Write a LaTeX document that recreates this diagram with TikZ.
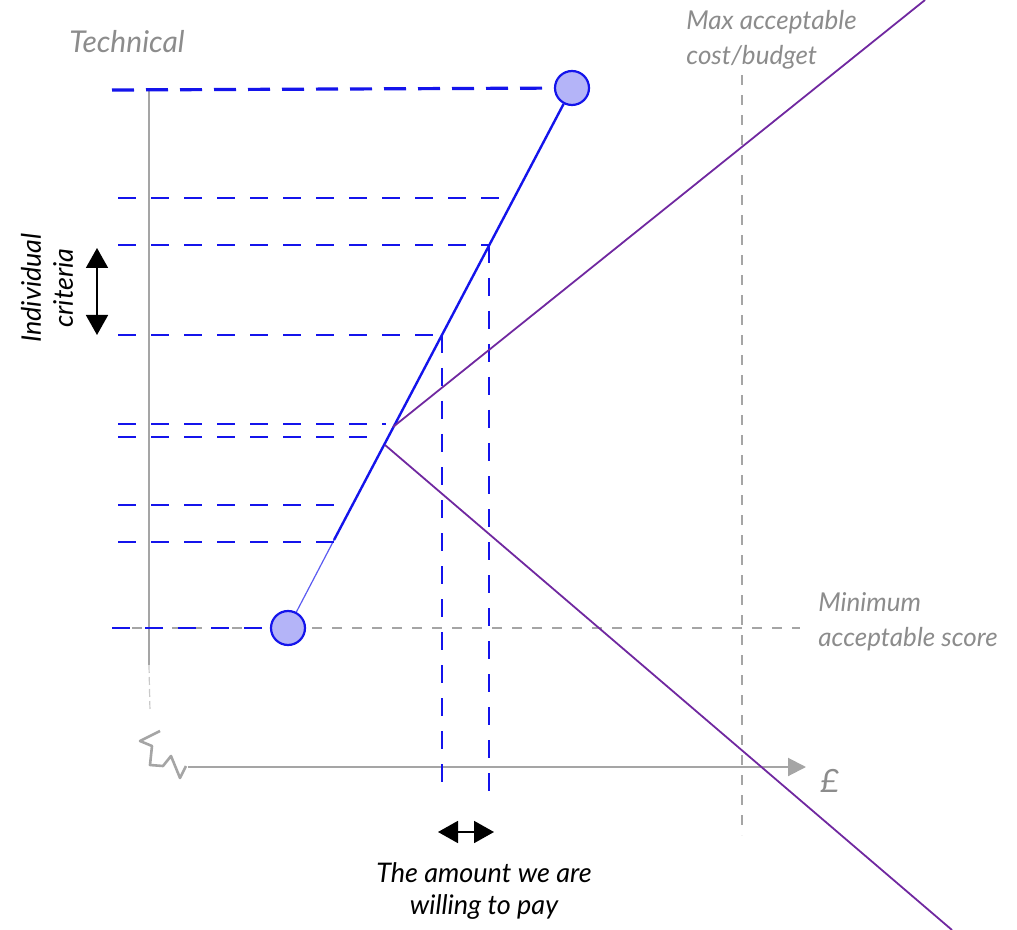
\documentclass[tikz,border=0pt]{standalone}
\usepackage{fontspec}
\setmainfont{Lato}
\usetikzlibrary{arrows.meta}
\definecolor{pblue}{RGB}{20,20,235}
\definecolor{cfill}{RGB}{180,180,248}
\definecolor{purp}{RGB}{112,40,160}
\definecolor{pgray}{RGB}{165,165,165}
\definecolor{tgray}{RGB}{140,140,140}
\begin{document}
\begin{tikzpicture}[x=0.5pt,y=-0.5pt,
  bdash/.style={pblue, line width=1.4pt, dash pattern=on 9pt off 7.5pt},
  gdash/.style={pgray, line width=0.9pt, dash pattern=on 5pt off 5pt},
  glbl/.style={font=\fontsize{13}{17.5}\selectfont\itshape, text=tgray, inner sep=0pt},
  klbl/.style={font=\fontsize{13.5}{16}\selectfont\itshape, text=black, inner sep=0pt},
  dot/.style={circle, draw=pblue, fill=cfill, line width=1.1pt, minimum size=17pt, inner sep=0pt},
  dbl/.style={line width=0.9pt, {Triangle[width=11pt,length=10pt]}-{Triangle[width=11pt,length=10pt]}},
  axis/.style={pgray, line width=1pt}
]
\useasboundingbox (0,0) rectangle (1017,930);

% gray reference lines
\draw[gdash] (112,628) -- (800,628);
\draw[gdash] (742,75) -- (742,835);

% axes
\coordinate (yTop) at (149,88);
\coordinate (yBot) at (149,665);
\coordinate (yEnd) at (150,712);
\draw[axis] (yTop) -- (yBot);
\draw[pgray!60, line width=0.6pt, dash pattern=on 4pt off 2pt] (yBot) -- (yEnd);
\draw[axis, line width=1.3pt, line join=round] (160,731) -- (140,741) -- (152,746) -- (150,765) -- (163,766) -- (171,756) -- (180,778) -- (186,766);
\coordinate (xStart) at (188,767);
\coordinate (xEnd) at (806,767);
\draw[axis, -{Triangle[width=9pt,length=9pt]}] (xStart) -- (xEnd);

% circles and connecting line
\node[dot] (top) at (572,88) {};
\node[dot] (bot) at (288,628) {};
\coordinate (mid) at (334,540);
\draw[pblue!70, line width=0.6pt] (bot) -- (mid);
\draw[pblue, line width=1.2pt] (mid) -- (top);

% blue horizontal dashed lines
\draw[bdash, line width=1.6pt, dash pattern=on 11pt off 6pt] (112,90) -- (top);
\draw[bdash] (118,198) -- (500,198);
\draw[bdash] (118,245) -- (490,245);
\draw[bdash] (118,335) -- (442,335);
\draw[bdash] (118,424) -- (386,424);
\draw[bdash] (118,437) -- (380,437);
\draw[bdash] (118,505) -- (335,505);
\draw[bdash] (118,542) -- (335,542);
\draw[bdash] (112,628) -- (bot);

% blue vertical dashed lines
\draw[bdash] (442,335) -- (442,792);
\draw[bdash] (489,245) -- (489,792);

% purple lines
\draw[purp, line width=0.9pt] (393,427) -- (925,0);
\draw[purp, line width=0.9pt] (385,445) -- (952,930);

% double arrows
\draw[dbl] (97,248) -- (97,335);
\draw[dbl] (438,832) -- (494,832);

% labels
\node[glbl, font=\fontsize{15}{18}\selectfont\itshape] (tech) at (127,42) {Technical};
\node[glbl, anchor=north west, align=left] (maxc) at (686,10) {Max acceptable\\cost/budget};
\node[glbl, anchor=north west, align=left] (minc) at (818,592) {Minimum\\acceptable score};
\node[glbl, font=\fontsize{16}{18}\selectfont\itshape] (pound) at (830,781) {£};
\node[klbl, rotate=90, align=center] (indiv) at (47,288) {Individual\\criteria};
\node[klbl, align=center] (amount) at (484,891) {The amount we are\\willing to pay};
\end{tikzpicture}
\end{document}
